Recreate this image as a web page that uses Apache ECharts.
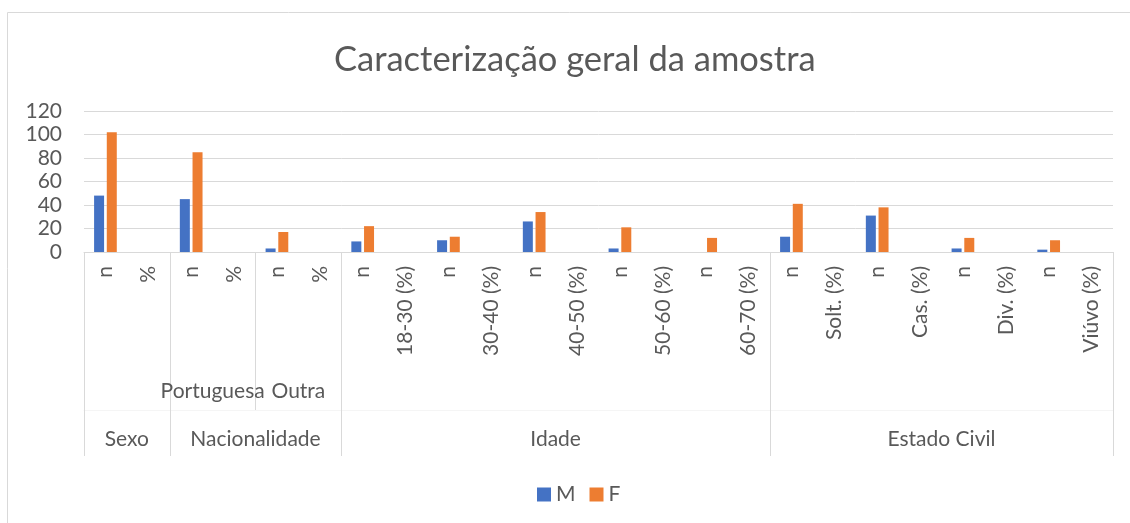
<!DOCTYPE html>
<html>
<head>
<meta charset="utf-8">
<script src="https://cdn.jsdelivr.net/npm/echarts@6/dist/echarts.min.js"></script>
<style>
html,body{margin:0;padding:0;background:#fff;}
#chart{width:1130px;height:523px;}
</style>
</head>
<body>
<div id="chart"></div>
<script>
// ---- data ----
const categories = ['n','%','n','%','n','%',
  'n','18-30 (%)','n','30-40 (%)','n','40-50 (%)','n','50-60 (%)','n','60-70 (%)',
  'n','Solt. (%)','n','Cas. (%)','n','Div. (%)','n','Viúvo (%)'];
const seriesM = [48,0, 45,0, 3,0, 9,0, 10,0, 26,0, 3,0, 0,0, 13,0, 31,0, 3,0, 2,0];
const seriesF = [102,0, 85,0, 17,0, 22,0, 13,0, 34,0, 21,0, 12,0, 41,0, 38,0, 12,0, 10,0];
// second level (one entry per n/% pair)
const subGroups = ['', 'Portuguesa', 'Outra', '', '', '', '', '', '', '', '', ''];
// third level
const groups = ['Sexo', 'Nacionalidade', 'Idade', 'Estado Civil'];
const groupSizes = [2, 4, 10, 8];
const yTicks = [0, 20, 40, 60, 80, 100, 120];

// ---- derived axis structure ----
const groupBounds = [0];
const groupCenters = [];
let acc = 0;
groupSizes.forEach(s => { groupCenters.push(acc + s / 2); acc += s; groupBounds.push(acc); });
const subCenters = [], subNames = {}, subBounds = [];
subGroups.forEach((g, i) => {
  if (g) { const c = i * 2 + 1; subCenters.push(c); subNames[c] = g; }
  if (i > 0 && g && subGroups[i - 1]) subBounds.push(i * 2);
});
const groupNames = {};
groupCenters.forEach((c, i) => groupNames[c] = groups[i]);

const TXT = '#595959', GRID = '#d9d9d9', FONT = 'Lato';
const N = categories.length;

const chart = echarts.init(document.getElementById('chart'), null, {renderer: 'canvas'});
chart.setOption({
  animation: false,
  textStyle: {fontFamily: FONT},
  title: {
    text: 'Caracterização geral da amostra',
    left: 329, top: 37,
    textStyle: {fontFamily: FONT, fontSize: 34.5, fontWeight: 'normal', color: TXT}
  },
  graphic: [{
    type: 'rect', shape: {x: 7.5, y: 12.5, width: 1130, height: 530},
    style: {fill: 'none', stroke: GRID, lineWidth: 1}, silent: true, z: -1
  }],
  legend: {
    data: ['M', 'F'], left: 532, top: 479,
    icon: 'rect', itemWidth: 14, itemHeight: 14, itemGap: 14,
    textStyle: {fontFamily: FONT, fontSize: 21, color: TXT}
  },
  grid: {left: 84, right: 17, top: 111, bottom: 271, containLabel: false},
  xAxis: [
    {
      type: 'category', data: categories, position: 'bottom',
      axisLine: {show: true, lineStyle: {color: GRID, width: 1}},
      axisTick: {show: false},
      axisLabel: {interval: 0, rotate: 90, margin: 14, color: TXT, fontFamily: FONT, fontSize: 21}
    },
    {
      type: 'value', min: 0, max: N, position: 'bottom', offset: 0,
      axisLine: {show: false}, splitLine: {show: false},
      axisTick: {show: true, customValues: subBounds, length: 158, lineStyle: {color: GRID, width: 1}},
      axisLabel: {customValues: subCenters, margin: 129, color: TXT, fontFamily: FONT, fontSize: 21,
        formatter: v => subNames[v] || ''}
    },
    {
      type: 'value', min: 0, max: N, position: 'bottom', offset: 0,
      axisLine: {show: false}, splitLine: {show: false},
      axisTick: {show: true, customValues: groupBounds, length: 204, lineStyle: {color: GRID, width: 1}},
      axisLabel: {customValues: groupCenters, margin: 177, color: TXT, fontFamily: FONT, fontSize: 21,
        formatter: v => groupNames[v] || ''}
    },
    {
      type: 'value', min: 0, max: N, position: 'bottom', offset: 158,
      axisLine: {show: true, lineStyle: {color: '#f5f5f5', width: 1}},
      splitLine: {show: false}, axisTick: {show: false}, axisLabel: {show: false}
    }
  ],
  yAxis: {
    type: 'value', min: yTicks[0], max: yTicks[yTicks.length - 1], interval: yTicks[1] - yTicks[0],
    axisLine: {show: false}, axisTick: {show: false},
    splitLine: {show: true, lineStyle: {color: GRID, width: 1}},
    axisLabel: {margin: 22, color: TXT, fontFamily: FONT, fontSize: 21}
  },
  series: [
    {name: 'M', type: 'bar', xAxisIndex: 0, data: seriesM, barWidth: 10, barGap: '27%',
      itemStyle: {color: '#4472C4'}},
    {name: 'F', type: 'bar', xAxisIndex: 0, data: seriesF, barWidth: 10, barGap: '27%',
      itemStyle: {color: '#ED7D31'}}
  ]
});
</script>
</body>
</html>
